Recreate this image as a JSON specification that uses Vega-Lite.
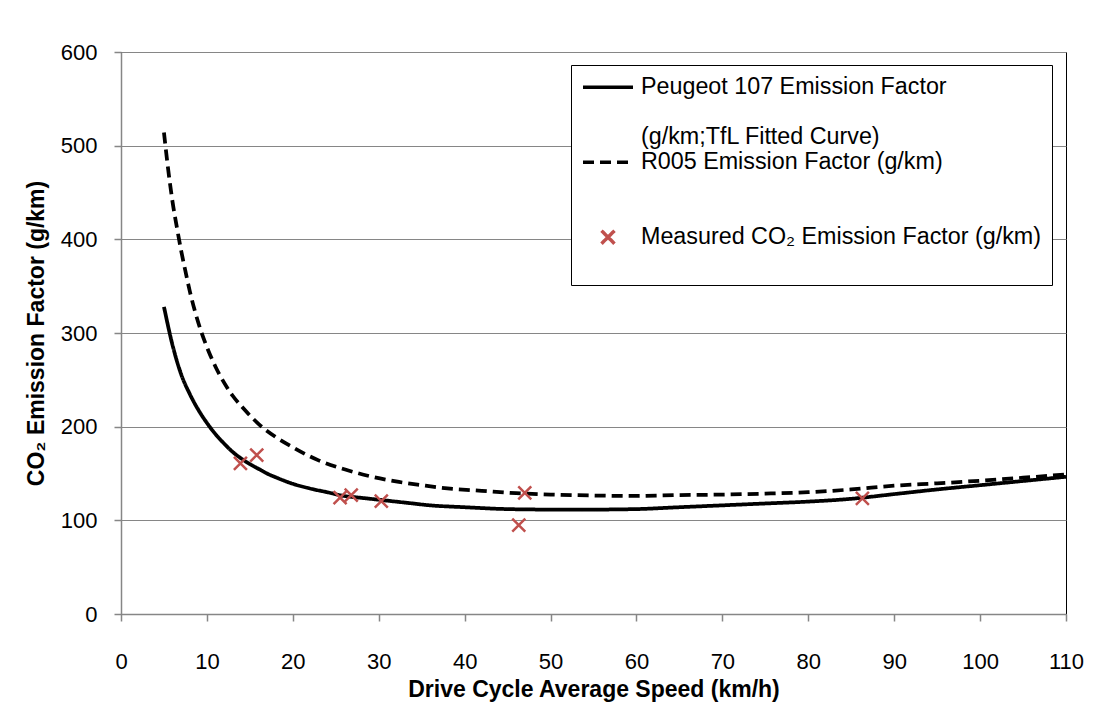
{
  "$schema": "https://vega.github.io/schema/vega-lite/v6.json",
  "width": 945,
  "height": 562,
  "autosize": {"type": "none"},
  "padding": {"left": 121, "top": 52, "right": 53, "bottom": 92},
  "background": "white",
  "config": {
    "font": "Liberation Sans",
    "view": {"stroke": "black", "strokeWidth": 1},
    "axis": {
      "labelFont": "Liberation Sans",
      "titleFont": "Liberation Sans",
      "labelColor": "black",
      "titleColor": "black",
      "labelFontSize": 22,
      "titleFontSize": 23,
      "titleFontWeight": "bold",
      "tickColor": "#868686",
      "domainColor": "#868686",
      "domainWidth": 1.5,
      "tickWidth": 1.5,
      "tickSize": 7,
      "gridColor": "#868686",
      "gridWidth": 1.2,
      "labelOverlap": false,
      "labelFlush": false
    },
    "legend": {"labelFont": "Liberation Sans"}
  },
  "datasets": {
    "curves": [
      {"series": "Peugeot 107 Emission Factor", "speed": 5, "ef": 328},
      {"series": "Peugeot 107 Emission Factor", "speed": 6, "ef": 287},
      {"series": "Peugeot 107 Emission Factor", "speed": 7, "ef": 256},
      {"series": "Peugeot 107 Emission Factor", "speed": 8, "ef": 235},
      {"series": "Peugeot 107 Emission Factor", "speed": 9, "ef": 218},
      {"series": "Peugeot 107 Emission Factor", "speed": 10, "ef": 204},
      {"series": "Peugeot 107 Emission Factor", "speed": 11, "ef": 192},
      {"series": "Peugeot 107 Emission Factor", "speed": 12, "ef": 182},
      {"series": "Peugeot 107 Emission Factor", "speed": 13, "ef": 173},
      {"series": "Peugeot 107 Emission Factor", "speed": 14, "ef": 166},
      {"series": "Peugeot 107 Emission Factor", "speed": 15, "ef": 160},
      {"series": "Peugeot 107 Emission Factor", "speed": 16, "ef": 155},
      {"series": "Peugeot 107 Emission Factor", "speed": 17, "ef": 150},
      {"series": "Peugeot 107 Emission Factor", "speed": 18, "ef": 146},
      {"series": "Peugeot 107 Emission Factor", "speed": 20, "ef": 139},
      {"series": "Peugeot 107 Emission Factor", "speed": 22, "ef": 134},
      {"series": "Peugeot 107 Emission Factor", "speed": 24, "ef": 130},
      {"series": "Peugeot 107 Emission Factor", "speed": 26, "ef": 126},
      {"series": "Peugeot 107 Emission Factor", "speed": 28, "ef": 124},
      {"series": "Peugeot 107 Emission Factor", "speed": 30, "ef": 122},
      {"series": "Peugeot 107 Emission Factor", "speed": 33, "ef": 119},
      {"series": "Peugeot 107 Emission Factor", "speed": 36, "ef": 116},
      {"series": "Peugeot 107 Emission Factor", "speed": 40, "ef": 114},
      {"series": "Peugeot 107 Emission Factor", "speed": 45, "ef": 112},
      {"series": "Peugeot 107 Emission Factor", "speed": 50, "ef": 111.5},
      {"series": "Peugeot 107 Emission Factor", "speed": 55, "ef": 111.5},
      {"series": "Peugeot 107 Emission Factor", "speed": 60, "ef": 112},
      {"series": "Peugeot 107 Emission Factor", "speed": 65, "ef": 114},
      {"series": "Peugeot 107 Emission Factor", "speed": 70, "ef": 116},
      {"series": "Peugeot 107 Emission Factor", "speed": 75, "ef": 118},
      {"series": "Peugeot 107 Emission Factor", "speed": 80, "ef": 120},
      {"series": "Peugeot 107 Emission Factor", "speed": 85, "ef": 123},
      {"series": "Peugeot 107 Emission Factor", "speed": 90, "ef": 128},
      {"series": "Peugeot 107 Emission Factor", "speed": 95, "ef": 133},
      {"series": "Peugeot 107 Emission Factor", "speed": 100, "ef": 137.5},
      {"series": "Peugeot 107 Emission Factor", "speed": 105, "ef": 142},
      {"series": "Peugeot 107 Emission Factor", "speed": 110, "ef": 146.5},
      {"series": "R005 Emission Factor (g/km)", "speed": 5, "ef": 514},
      {"series": "R005 Emission Factor (g/km)", "speed": 5.5, "ef": 474},
      {"series": "R005 Emission Factor (g/km)", "speed": 6, "ef": 440},
      {"series": "R005 Emission Factor (g/km)", "speed": 6.5, "ef": 413},
      {"series": "R005 Emission Factor (g/km)", "speed": 7, "ef": 388},
      {"series": "R005 Emission Factor (g/km)", "speed": 7.5, "ef": 366},
      {"series": "R005 Emission Factor (g/km)", "speed": 8, "ef": 345},
      {"series": "R005 Emission Factor (g/km)", "speed": 9, "ef": 311},
      {"series": "R005 Emission Factor (g/km)", "speed": 10, "ef": 285},
      {"series": "R005 Emission Factor (g/km)", "speed": 11, "ef": 264},
      {"series": "R005 Emission Factor (g/km)", "speed": 12, "ef": 247},
      {"series": "R005 Emission Factor (g/km)", "speed": 13, "ef": 233},
      {"series": "R005 Emission Factor (g/km)", "speed": 14, "ef": 222},
      {"series": "R005 Emission Factor (g/km)", "speed": 15, "ef": 212},
      {"series": "R005 Emission Factor (g/km)", "speed": 16, "ef": 203},
      {"series": "R005 Emission Factor (g/km)", "speed": 18, "ef": 189},
      {"series": "R005 Emission Factor (g/km)", "speed": 20, "ef": 178},
      {"series": "R005 Emission Factor (g/km)", "speed": 23, "ef": 164},
      {"series": "R005 Emission Factor (g/km)", "speed": 26, "ef": 154.5},
      {"series": "R005 Emission Factor (g/km)", "speed": 29, "ef": 147},
      {"series": "R005 Emission Factor (g/km)", "speed": 32, "ef": 141.5},
      {"series": "R005 Emission Factor (g/km)", "speed": 35, "ef": 137.5},
      {"series": "R005 Emission Factor (g/km)", "speed": 38, "ef": 134},
      {"series": "R005 Emission Factor (g/km)", "speed": 42, "ef": 131.5},
      {"series": "R005 Emission Factor (g/km)", "speed": 46, "ef": 129},
      {"series": "R005 Emission Factor (g/km)", "speed": 50, "ef": 127.5},
      {"series": "R005 Emission Factor (g/km)", "speed": 55, "ef": 126.5},
      {"series": "R005 Emission Factor (g/km)", "speed": 60, "ef": 126},
      {"series": "R005 Emission Factor (g/km)", "speed": 65, "ef": 127},
      {"series": "R005 Emission Factor (g/km)", "speed": 70, "ef": 127.5},
      {"series": "R005 Emission Factor (g/km)", "speed": 75, "ef": 128.5},
      {"series": "R005 Emission Factor (g/km)", "speed": 80, "ef": 130},
      {"series": "R005 Emission Factor (g/km)", "speed": 85, "ef": 133},
      {"series": "R005 Emission Factor (g/km)", "speed": 90, "ef": 137},
      {"series": "R005 Emission Factor (g/km)", "speed": 95, "ef": 139.5},
      {"series": "R005 Emission Factor (g/km)", "speed": 100, "ef": 142.3},
      {"series": "R005 Emission Factor (g/km)", "speed": 105, "ef": 145.5},
      {"series": "R005 Emission Factor (g/km)", "speed": 110, "ef": 149}
    ],
    "measured": [
      {"series": "Measured CO₂ Emission Factor (g/km)", "speed": 13.9, "ef": 160.9},
      {"series": "Measured CO₂ Emission Factor (g/km)", "speed": 15.8, "ef": 169.7},
      {"series": "Measured CO₂ Emission Factor (g/km)", "speed": 25.5, "ef": 124.2},
      {"series": "Measured CO₂ Emission Factor (g/km)", "speed": 26.8, "ef": 127.0},
      {"series": "Measured CO₂ Emission Factor (g/km)", "speed": 30.3, "ef": 120.6},
      {"series": "Measured CO₂ Emission Factor (g/km)", "speed": 47.0, "ef": 129.2},
      {"series": "Measured CO₂ Emission Factor (g/km)", "speed": 46.3, "ef": 95.0},
      {"series": "Measured CO₂ Emission Factor (g/km)", "speed": 86.3, "ef": 123.5}
    ]
  },
  "encoding": {
    "x": {
      "field": "speed", "type": "quantitative",
      "scale": {"domain": [0, 110], "nice": false},
      "axis": {
        "title": "Drive Cycle Average Speed (km/h)",
        "values": [0, 10, 20, 30, 40, 50, 60, 70, 80, 90, 100, 110],
        "grid": false,
        "labelPadding": 30,
        "titlePadding": 6
      }
    },
    "y": {
      "field": "ef", "type": "quantitative",
      "scale": {"domain": [0, 600], "nice": false},
      "axis": {
        "title": "CO₂ Emission Factor (g/km)",
        "values": [0, 100, 200, 300, 400, 500, 600],
        "grid": true,
        "labelPadding": 17,
        "titlePadding": 12
      }
    }
  },
  "layer": [
    {
      "data": {"name": "curves"},
      "mark": {"type": "line", "strokeWidth": 3.75, "interpolate": "monotone", "strokeCap": "butt"},
      "encoding": {
        "color": {
          "field": "series", "type": "nominal",
          "scale": {
            "domain": ["Peugeot 107 Emission Factor", " ", "(g/km;TfL Fitted Curve)", "R005 Emission Factor (g/km)", "  ", "   ", "Measured CO₂ Emission Factor (g/km)", "    "],
            "range": ["#000000", "rgba(0,0,0,0)", "rgba(0,0,0,0)", "#000000", "rgba(0,0,0,0)", "rgba(0,0,0,0)", "#C0504D", "rgba(0,0,0,0)"]
          },
          "legend": {
            "orient": "none", "legendX": 450, "legendY": 13, "title": null,
            "strokeColor": "black", "fillColor": "white", "padding": 10,
            "clipHeight": 24.33, "rowPadding": 0, "symbolSize": 2500, "symbolStrokeWidth": 3.5,
            "symbolOffset": 0, "labelOffset": 6, "labelFontSize": 23.3, "labelLimit": 600,
            "symbolOpacity": 1, "labelColor": "black"
          }
        },
        "strokeDash": {
          "field": "series", "type": "nominal",
          "scale": {
            "domain": ["Peugeot 107 Emission Factor", " ", "(g/km;TfL Fitted Curve)", "R005 Emission Factor (g/km)", "  ", "   ", "Measured CO₂ Emission Factor (g/km)", "    "],
            "range": [[1, 0], [1, 0], [1, 0], [11, 6], [1, 0], [1, 0], [1, 0], [1, 0]]
          },
          "legend": {
            "orient": "none", "legendX": 450, "legendY": 13, "title": null,
            "strokeColor": "black", "fillColor": "white", "padding": 10,
            "clipHeight": 24.33, "rowPadding": 0, "symbolSize": 2500, "symbolStrokeWidth": 3.5,
            "symbolOffset": 0, "labelOffset": 6, "labelFontSize": 23.3, "labelLimit": 600,
            "symbolOpacity": 1, "labelColor": "black"
          }
        }
      }
    },
    {
      "data": {"name": "measured"},
      "mark": {"type": "point", "filled": false, "strokeWidth": 2.5, "size": 2500, "opacity": 1},
      "encoding": {
        "color": {"field": "series", "type": "nominal"},
        "shape": {
          "field": "series", "type": "nominal",
          "scale": {
            "domain": ["Peugeot 107 Emission Factor", " ", "(g/km;TfL Fitted Curve)", "R005 Emission Factor (g/km)", "  ", "   ", "Measured CO₂ Emission Factor (g/km)", "    "],
            "range": ["stroke", "stroke", "stroke", "stroke", "stroke", "stroke", "M-0.26,-0.26L0.26,0.26M-0.26,0.26L0.26,-0.26", "stroke"]
          },
          "legend": {
            "orient": "none", "legendX": 450, "legendY": 13, "title": null,
            "strokeColor": "black", "fillColor": "white", "padding": 10,
            "clipHeight": 24.33, "rowPadding": 0, "symbolSize": 2500, "symbolStrokeWidth": 3.5,
            "symbolOffset": 0, "labelOffset": 6, "labelFontSize": 23.3, "labelLimit": 600,
            "symbolOpacity": 1, "labelColor": "black"
          }
        }
      }
    }
  ]
}
